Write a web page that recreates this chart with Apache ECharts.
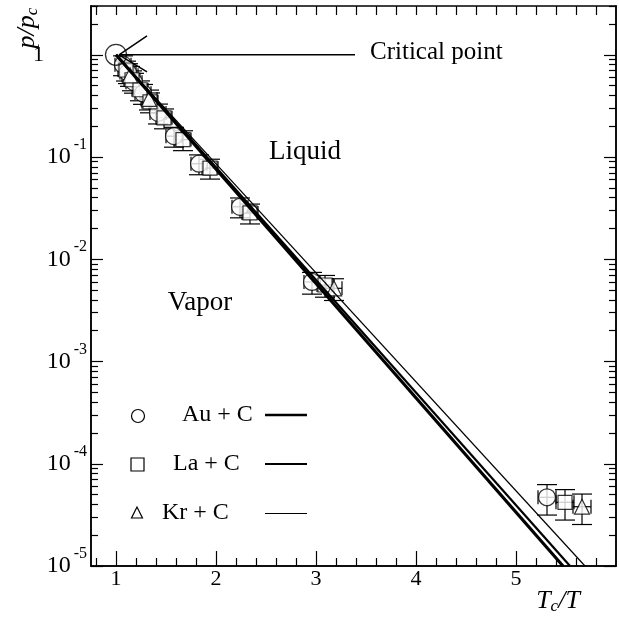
<!DOCTYPE html>
<html><head><meta charset="utf-8">
<script src="https://cdn.jsdelivr.net/npm/echarts@6/dist/echarts.min.js"></script>
<style>html,body{margin:0;padding:0;background:#fff}#c{width:619px;height:620px}</style>
</head><body><div id="c"></div>
<script>
// ---- data ----
const auX = [1.07, 1.12, 1.18, 1.27, 1.42, 1.58, 1.83, 2.24, 2.96, 5.31];
const auY = [0.80, 0.67, 0.54, 0.42, 0.27, 0.16, 0.086, 0.0326, 0.0060, 4.7e-5];
const laX = [1.10, 1.16, 1.24, 1.34, 1.48, 1.67, 1.94, 2.34, 3.09, 5.49];
const laY = [0.71, 0.57, 0.455, 0.347, 0.242, 0.148, 0.078, 0.0284, 0.0056, 4.2e-5];
const krX = [1.14, 1.33, 3.18, 5.66];
const krY = [0.63, 0.37, 0.0052, 3.8e-5];
const xErr = [0.08, 0.08, 0.08, 0.08, 0.08, 0.08, 0.08, 0.08, 0.08, 0.09];
const yErrRel = [0.22, 0.22, 0.22, 0.22, 0.22, 0.22, 0.22, 0.22, 0.24, 0.33];
const krXErr = [0.08, 0.08, 0.08, 0.09];
const krYErrRel = [0.22, 0.22, 0.24, 0.33];
const criticalPoint = [1, 1];
const auFit = [[1, 1], [5.47, 1e-5]];
const laFit = [[1, 1], [5.54, 1e-5]];
const krFit = [[1, 1], [5.69, 1e-5]];
const critLine = [[1.03, 1], [3.39, 1]];
const arrowUp = [[1.03, 1], [1.31, 1.53]];
const arrowDown = [[1.03, 1], [1.31, 0.68]];
const xMajor = [1, 2, 3, 4, 5];
const xMinor = [0.8, 1.2, 1.4, 1.6, 1.8, 2.2, 2.4, 2.6, 2.8, 3.2, 3.4, 3.6, 3.8, 4.2, 4.4, 4.6, 4.8, 5.2, 5.4, 5.6, 5.8];
const xTop = [0.8, 1, 1.2, 1.4, 1.6, 1.8, 2, 2.2, 2.4, 2.6, 2.8, 3, 3.2, 3.4, 3.6, 3.8, 4, 4.2, 4.4, 4.6, 4.8, 5, 5.2, 5.4, 5.6, 5.8];
const yMajor = [1e-5, 1e-4, 1e-3, 1e-2, 1e-1, 1];
const yMinor = [];
[1e-5, 1e-4, 1e-3, 1e-2, 1e-1, 1].forEach(d => { for (let k = 2; k <= 9; k++) { const v = d * k; if (v <= 3) yMinor.push(+v.toPrecision(3)); } });

const SERIF = '"Liberation Serif","DejaVu Serif",serif';

function zip(xs, ys, dx, ry) { return xs.map((x, i) => dx ? [x, ys[i], dx[i], ry[i]] : [x, ys[i]]); }

function errRender(params, api) {
  const x = api.value(0), y = api.value(1), dx = api.value(2), ry = api.value(3);
  const c = api.coord([x, y]);
  const top = api.coord([x, y * (1 + ry)]);
  const bot = api.coord([x, y * (1 - ry)]);
  const l = api.coord([x - dx, y]);
  const r = api.coord([x + dx, y]);
  const cw = 10, ch = 7;
  const st = { stroke: '#000', lineWidth: 1.2 };
  const ln = (x1, y1, x2, y2) => ({ type: 'line', shape: { x1, y1, x2, y2 }, style: st });
  return { type: 'group', children: [
    ln(c[0], top[1], c[0], bot[1]),
    ln(c[0] - cw, top[1], c[0] + cw, top[1]),
    ln(c[0] - cw, bot[1], c[0] + cw, bot[1]),
    ln(l[0], c[1], r[0], c[1]),
    ln(l[0], c[1] - ch, l[0], c[1] + ch),
    ln(r[0], c[1] - ch, r[0], c[1] + ch)
  ]};
}

const xCommon = { type: 'value', min: 0.75, max: 6.0, splitLine: { show: false }, axisLine: { lineStyle: { color: '#000', width: 1.5 } } };
const yCommon = { type: 'log', logBase: 10, min: 1e-5, max: 3, splitLine: { show: false }, axisLine: { lineStyle: { color: '#000', width: 1.5 } } };

const chart = echarts.init(document.getElementById('c'));
chart.setOption({
  backgroundColor: '#fff',
  animation: false,
  grid: { left: 91, right: 3, top: 6, bottom: 54 },
  xAxis: [
    Object.assign({}, xCommon, { position: 'bottom',
      axisTick: { inside: true, length: 15, customValues: xMajor, lineStyle: { color: '#000', width: 1.2 } },
      axisLabel: { customValues: xMajor, margin: 2, color: '#000', fontFamily: SERIF, fontSize: 22 } }),
    Object.assign({}, xCommon, { position: 'bottom',
      axisTick: { inside: true, length: 8, customValues: xMinor, lineStyle: { color: '#000', width: 1.2 } },
      axisLabel: { show: false } }),
    Object.assign({}, xCommon, { position: 'top',
      axisTick: { inside: true, length: 9, customValues: xTop, lineStyle: { color: '#000', width: 1.2 } },
      axisLabel: { show: false } })
  ],
  yAxis: [
    Object.assign({}, yCommon, { position: 'left',
      axisTick: { inside: true, length: 12, customValues: yMajor, lineStyle: { color: '#000', width: 1.2 } },
      axisLabel: { customValues: yMajor, margin: 4, color: '#000', fontFamily: SERIF,
        formatter: v => { const e = Math.round(Math.log10(v)); return e === 0 ? '{one|1}' : '{b|10}{s|' + e + '}'; },
        rich: {
          one: { fontFamily: SERIF, fontSize: 22, color: '#000', padding: [0, 43, 0, 0] },
          b: { fontFamily: SERIF, fontSize: 24, color: '#000', lineHeight: 40 },
          s: { fontFamily: SERIF, fontSize: 16, color: '#000', verticalAlign: 'top', padding: [0, 0, 0, 3] }
        } } }),
    Object.assign({}, yCommon, { position: 'left',
      axisTick: { inside: true, length: 7, customValues: yMinor, lineStyle: { color: '#000', width: 1.2 } },
      axisLabel: { show: false } }),
    Object.assign({}, yCommon, { position: 'right',
      axisTick: { inside: true, length: 12, customValues: yMajor, lineStyle: { color: '#000', width: 1.2 } },
      axisLabel: { show: false } }),
    Object.assign({}, yCommon, { position: 'right',
      axisTick: { inside: true, length: 7, customValues: yMinor, lineStyle: { color: '#000', width: 1.2 } },
      axisLabel: { show: false } })
  ],
  series: [
    { name: 'Au err', type: 'custom', renderItem: errRender, data: zip(auX, auY, xErr, yErrRel), z: 2, clip: true },
    { name: 'La err', type: 'custom', renderItem: errRender, data: zip(laX, laY, xErr, yErrRel), z: 2, clip: true },
    { name: 'Kr err', type: 'custom', renderItem: errRender, data: zip(krX, krY, krXErr, krYErrRel), z: 2, clip: true },
    { name: 'Au + C', type: 'scatter', symbol: 'circle', symbolSize: 17, data: zip(auX, auY), z: 3,
      itemStyle: { color: '#fff', borderColor: '#000', borderWidth: 1.2 } },
    { name: 'La + C', type: 'scatter', symbol: 'rect', symbolSize: 14, data: zip(laX, laY), z: 3,
      itemStyle: { color: '#fff', borderColor: '#000', borderWidth: 1.2 } },
    { name: 'Kr + C', type: 'scatter', symbol: 'triangle', symbolSize: 15, data: zip(krX, krY), z: 3,
      itemStyle: { color: '#fff', borderColor: '#000', borderWidth: 1.2 } },
    { name: 'Critical', type: 'scatter', symbol: 'circle', symbolSize: 21, data: [criticalPoint], z: 3,
      itemStyle: { color: 'rgba(255,255,255,0)', borderColor: '#000', borderWidth: 1.3 } },
    { name: 'Au fit', type: 'line', data: auFit, showSymbol: false, symbol: 'none', z: 5, lineStyle: { color: '#000', width: 3.2 } },
    { name: 'La fit', type: 'line', data: laFit, showSymbol: false, symbol: 'none', z: 5, lineStyle: { color: '#000', width: 2.2 } },
    { name: 'Kr fit', type: 'line', data: krFit, showSymbol: false, symbol: 'none', z: 5, lineStyle: { color: '#000', width: 1.2 } },
    { name: 'crit line', type: 'line', data: critLine, symbol: 'none', z: 5, lineStyle: { color: '#000', width: 1.5 } },
    { name: 'arrow up', type: 'line', data: arrowUp, symbol: 'none', z: 5, lineStyle: { color: '#000', width: 1.5 } },
    { name: 'arrow down', type: 'line', data: arrowDown, symbol: 'none', z: 5, lineStyle: { color: '#000', width: 1.5 } }
  ],
  graphic: [
    { type: 'text', left: 370, top: 40, style: { text: 'Critical point', font: '25px ' + SERIF, fill: '#000' } },
    { type: 'text', x: 305, y: 152, style: { text: 'Liquid', font: '27px ' + SERIF, fill: '#000', align: 'center', verticalAlign: 'middle' } },
    { type: 'text', x: 200, y: 303, style: { text: 'Vapor', font: '27px ' + SERIF, fill: '#000', align: 'center', verticalAlign: 'middle' } },
    // legend
    { type: 'circle', shape: { cx: 138, cy: 416, r: 6.5 }, style: { fill: '#fff', stroke: '#000', lineWidth: 1.2 } },
    { type: 'rect', shape: { x: 131, y: 458, width: 13, height: 13 }, style: { fill: '#fff', stroke: '#000', lineWidth: 1.2 } },
    { type: 'polygon', shape: { points: [[137, 507], [131.5, 518], [142.5, 518]] }, style: { fill: '#fff', stroke: '#000', lineWidth: 1.2 } },
    { type: 'text', x: 182, y: 415, style: { text: 'Au + C', font: '24px ' + SERIF, fill: '#000', verticalAlign: 'middle' } },
    { type: 'text', x: 173, y: 464, style: { text: 'La + C', font: '24px ' + SERIF, fill: '#000', verticalAlign: 'middle' } },
    { type: 'text', x: 162, y: 513, style: { text: 'Kr + C', font: '24px ' + SERIF, fill: '#000', verticalAlign: 'middle' } },
    { type: 'line', shape: { x1: 265, y1: 415, x2: 307, y2: 415 }, style: { stroke: '#000', lineWidth: 2.6 } },
    { type: 'line', shape: { x1: 265, y1: 464, x2: 307, y2: 464 }, style: { stroke: '#000', lineWidth: 1.8 } },
    { type: 'line', shape: { x1: 265, y1: 513.5, x2: 307, y2: 513.5 }, style: { stroke: '#000', lineWidth: 1.1 } },
    // axis names
    { type: 'text', x: 558, y: 601, style: { text: '{i|T}{sub|c}{i|/T}', align: 'center', verticalAlign: 'middle',
      rich: { i: { fontFamily: SERIF, fontStyle: 'italic', fontSize: 26, fill: '#000', color: '#000', lineHeight: 26 },
              sub: { fontFamily: SERIF, fontStyle: 'italic', fontSize: 17, fill: '#000', color: '#000', verticalAlign: 'bottom', padding: [12, 0, 0, 0] } } } },
    { type: 'text', x: 27, y: 28, rotation: Math.PI / 2, style: { text: '{i|p/p}{sub|c}', align: 'center', verticalAlign: 'middle',
      rich: { i: { fontFamily: SERIF, fontStyle: 'italic', fontSize: 26, fill: '#000', color: '#000', lineHeight: 26 },
              sub: { fontFamily: SERIF, fontStyle: 'italic', fontSize: 17, fill: '#000', color: '#000', verticalAlign: 'bottom', padding: [12, 0, 0, 0] } } } }
  ]
});
</script></body></html>
